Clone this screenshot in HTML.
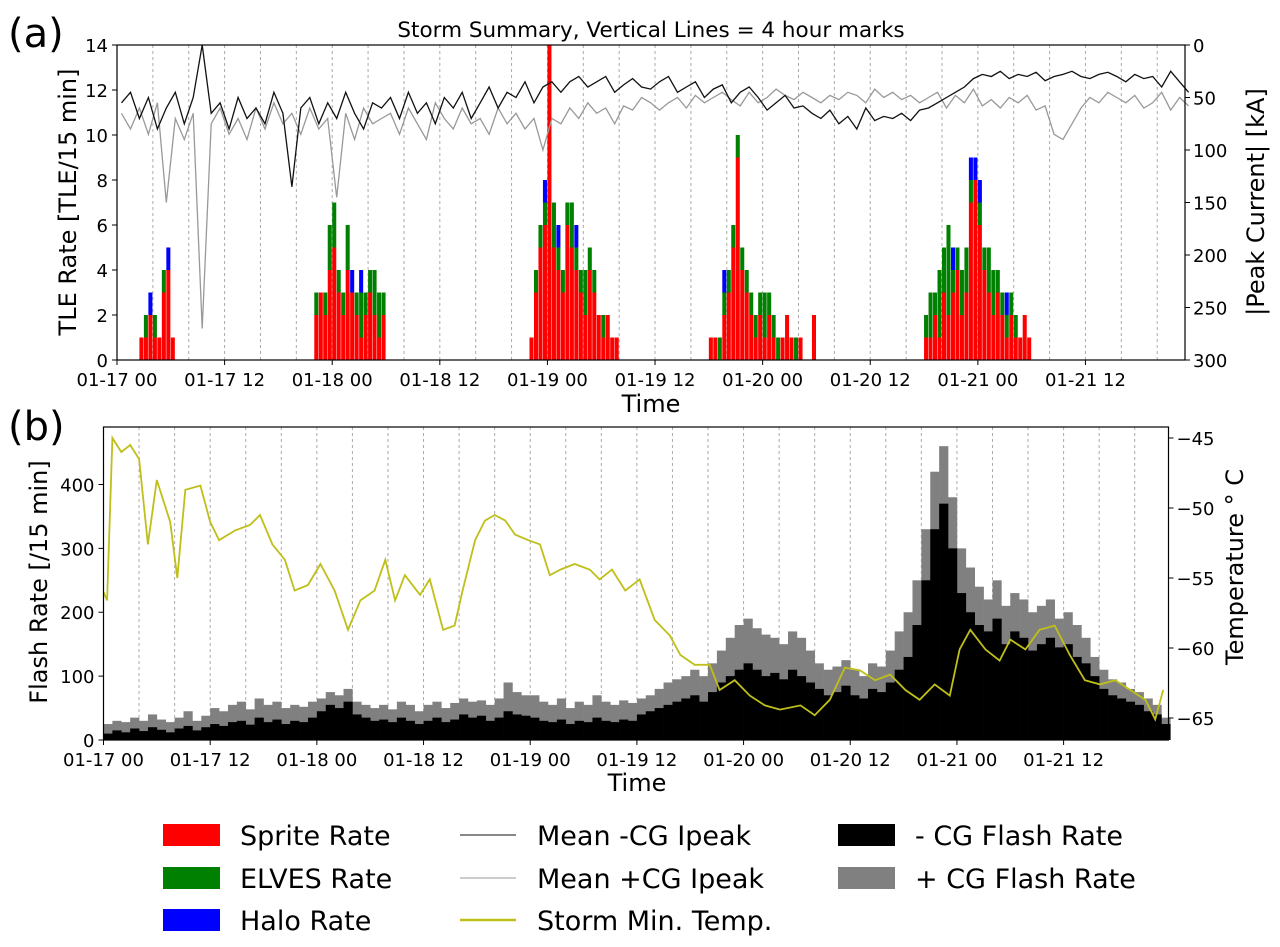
<!DOCTYPE html>
<html><head><meta charset="utf-8"><style>
body{margin:0;background:#fff;}
svg{display:block;font-family:"DejaVu Sans","Liberation Sans",sans-serif;}
</style></head><body>
<svg id="fig" width="1280" height="947" viewBox="0 0 1280 947">
<g id="pa"></g>
<g id="pb"></g>
<g id="legend"></g>
</svg>
<script>
// ---------- Panel (a) data ----------
const tleHours = [2.5,3,3.5,4,4.5,5,5.5,6,
 22,22.5,23,23.5,24,24.5,25,25.5,26,26.5,27,27.5,28,28.5,29,29.5,
 46,46.5,47,47.5,48,48.5,49,49.5,50,50.5,51,51.5,52,52.5,53,53.5,54,54.5,55,55.5,
 66,66.5,67,67.5,68,68.5,69,69.5,70,70.5,71,71.5,72,72.5,73,73.5,74,74.5,75,75.5,76,76.5,77,77.5,
 90,90.5,91,91.5,92,92.5,93,93.5,94,94.5,95,95.5,96,96.5,97,97.5,98,98.5,99,99.5,100,100.5,101,101.5];
const spriteRate = [1,1,2,1,1,3,4,1,
 2,3,2,4,5,3,2,4,3,2,1,2,3,2,1,2,
 1,3,5,6,14,5,4,3,6,5,4,3,2,4,3,2,1,2,1,1,
 1,1,0,2,3,5,9,4,3,2,1,2,1,2,1,0,1,2,1,0,1,0,0,2,
 1,1,2,1,3,2,3,4,2,3,7,8,6,4,3,2,3,2,1,2,1,1,2,1];
const elvesRate = [0,1,0,1,0,1,0,0,
 1,0,1,2,2,1,1,2,0,1,2,1,1,2,2,1,
 0,1,1,1,0,2,1,1,1,2,1,1,2,1,1,0,1,0,0,0,
 0,0,1,1,1,1,1,1,1,1,1,1,2,1,1,1,0,0,0,1,0,0,0,0,
 1,2,1,3,2,4,1,1,2,2,1,0,1,1,2,2,1,1,1,1,1,0,0,0];
const haloRate = [0,0,1,0,0,0,1,0,
 0,0,0,0,0,0,0,0,1,0,1,0,0,0,0,0,
 0,0,0,1,0,0,1,0,0,0,1,0,0,0,0,0,0,0,0,0,
 0,0,0,1,0,0,0,0,0,0,0,0,0,0,0,0,0,0,0,0,0,0,0,0,
 0,0,0,0,0,0,1,0,0,0,1,1,1,0,0,0,0,0,1,0,0,0,0,0];
const negIpeak = [55,45,70,50,80,60,45,75,50,0,
 65,55,80,50,70,60,75,45,65,135,
 60,50,75,55,70,45,65,80,55,60,
 50,70,45,65,55,75,50,60,45,70,
 55,40,60,45,50,35,55,40,35,45,
 35,30,40,35,30,45,38,32,40,42,
 35,30,45,40,35,50,42,38,55,45,
 40,50,62,55,48,60,58,65,70,62,
 75,68,80,60,72,68,70,65,72,62,
 60,55,50,45,40,32,28,30,25,32,
 28,30,26,34,30,28,25,30,32,28,
 26,30,35,28,32,30,40,25,35,45];
const posIpeak = [65,80,60,85,55,150,70,90,65,270,
 75,60,85,70,90,60,80,55,75,65,
 85,60,80,70,145,65,90,60,75,70,
 65,85,60,75,90,55,70,80,60,75,
 70,85,60,75,65,80,70,100,70,75,
 60,70,55,65,60,75,58,62,50,55,
 62,55,50,60,48,55,50,45,52,58,
 45,55,50,42,48,52,45,50,55,48,
 52,45,48,55,42,50,45,52,48,55,
 50,45,60,48,55,42,58,52,60,50,
 55,48,62,58,85,90,75,60,50,55,
 45,50,55,48,60,55,45,62,50,58];
const tleTicks = [0,2,4,6,8,10,12,14];
const ipeakTicks = [0,50,100,150,200,250,300];
const timeTickLabels = ["01-17 00","01-17 12","01-18 00","01-18 12","01-19 00","01-19 12","01-20 00","01-20 12","01-21 00","01-21 12"];

// ---------- Panel (b) data ----------
const negFlash = [10,15,12,18,14,20,16,12,18,22,15,20,
 25,22,28,30,24,35,28,32,25,30,28,35,
 45,55,50,60,40,35,30,32,28,35,30,25,
 30,35,28,32,40,35,38,30,35,45,40,38,
 35,30,28,32,25,30,28,35,30,28,32,30,
 40,45,50,55,60,65,70,60,75,90,100,110,
 120,110,100,105,95,110,100,90,80,70,75,85,
 70,65,80,75,90,110,130,180,250,330,370,300,
 230,200,180,170,190,150,170,160,140,150,160,145,
 150,130,120,100,80,70,65,60,55,45,40,25];
const totalFlash = [25,30,28,35,30,40,32,28,35,45,30,38,
 50,45,55,60,48,65,55,60,50,55,52,60,
 65,75,70,80,60,55,50,55,48,60,55,45,
 55,60,50,58,65,60,62,55,65,90,75,70,
 70,60,55,65,50,60,55,70,60,55,62,58,
 65,70,80,90,95,100,110,100,120,140,160,180,
 190,175,165,160,150,170,160,140,120,110,115,125,
 110,100,120,115,140,170,200,250,330,420,460,380,
 300,270,240,220,250,210,230,220,200,210,220,190,
 200,180,160,130,110,95,90,80,75,65,55,35];
const tempHours = [0,0.4,1,2,3,4,5,6,7.5,8.3,9.2,10.9,12,13,14.8,16.5,17.6,19,20.4,21.5,23,24.4,26,27.5,28.9,30.5,31.7,32.8,33.9,35.6,36.7,38.2,39.5,40.4,41.8,42.9,44,45.2,46.3,47.8,49.1,50.2,51.4,53,54.7,55.8,57.2,58.7,60.3,62,63.7,64.9,66.5,68.2,69.3,71,72.7,74.4,76.1,78.4,80,81.7,83.4,85.1,86.8,88.5,90.2,91.8,93.5,95.2,96.3,97.5,99.2,100.8,102,103.7,105.3,107,108.7,110.4,112.1,113.8,115.5,117.2,118.3,119.2];
const tempVals = [-56,-56.6,-45,-46,-45.5,-46.5,-52.6,-48,-51,-55,-48.7,-48.4,-51,-52.3,-51.6,-51.2,-50.5,-52.6,-53.7,-55.9,-55.5,-54,-55.9,-58.7,-56.6,-55.9,-53.7,-56.6,-54.8,-56.2,-55.1,-58.7,-58.4,-55.9,-52.3,-50.9,-50.5,-50.9,-51.9,-52.3,-52.6,-54.8,-54.4,-54,-54.4,-55.1,-54.4,-55.9,-55.1,-58,-59.1,-60.5,-61.2,-61.2,-63,-62.3,-63.4,-64.1,-64.4,-64.1,-64.8,-63.7,-61.4,-61.6,-62.3,-61.9,-63,-63.7,-62.6,-63.4,-60.1,-58.7,-60.1,-60.9,-59.4,-60.1,-58.7,-58.4,-60.5,-62.3,-62.6,-62.3,-63,-63.7,-65.1,-63];
const flashTicks = [0,100,200,300,400];
const tempTicks = [-45,-50,-55,-60,-65];

const NS="http://www.w3.org/2000/svg";
function mk(parent,tag,attrs,text){const e=document.createElementNS(NS,tag);for(const k in attrs)e.setAttribute(k,attrs[k]);if(text!==undefined)e.textContent=text;parent.appendChild(e);return e;}
const TF=18, AF=24;

// ---------- Panel (a) ----------
(function(){
const g=document.getElementById('pa');
const L=117,R=1185,T=45,B=360,HMAX=119.1;
const X=h=>L+h*(R-L)/HMAX;
const Y=v=>B-v*(B-T)/14;
const Yr=v=>T+v*(B-T)/300;
for(let h=4;h<HMAX;h+=4){const l=mk(g,'line',{x1:X(h),x2:X(h),y1:T,y2:B,stroke:'#aaa','stroke-width':1,'stroke-dasharray':'3,3'});

}
const bw=(X(0.5)-X(0))*0.9;
tleHours.forEach((h,i)=>{
 let base=0;
 [[spriteRate[i],'#ff0000','sprite-bar'],[elvesRate[i],'#008000','elves-bar'],[haloRate[i],'#0000ff','halo-bar']].forEach(([v,c,n])=>{
  if(v>0){const r=mk(g,'rect',{x:X(h),y:Y(base+v),width:bw,height:Y(base)-Y(base+v),fill:c});
  
  
  base+=v;}
 });
});
function line(arr,col,w,name){let d='';arr.forEach((v,i)=>{d+=(i?'L':'M')+X(i+0.5).toFixed(1)+','+Yr(v).toFixed(1);});
 const p=mk(g,'path',{d:d,fill:'none',stroke:col,'stroke-width':w});
 
 }
line(posIpeak,'#999',1.3,'mean-pos-cg-ipeak-line');
line(negIpeak,'#111',1.3,'mean-neg-cg-ipeak-line');
mk(g,'rect',{x:L,y:T,width:R-L,height:B-T,fill:'none',stroke:'#000','stroke-width':1.2});
tleTicks.forEach(v=>{mk(g,'line',{x1:L-5,x2:L,y1:Y(v),y2:Y(v),stroke:'#000'});
 const t=mk(g,'text',{x:L-9,y:Y(v)+7,'font-size':TF,'text-anchor':'end'},v);
 
 });
ipeakTicks.forEach(v=>{mk(g,'line',{x1:R,x2:R+5,y1:Yr(v),y2:Yr(v),stroke:'#000'});
 const t=mk(g,'text',{x:R+8,y:Yr(v)+7,'font-size':TF},v);
 
 });
timeTickLabels.forEach((s,i)=>{const h=i*12;mk(g,'line',{x1:X(h),x2:X(h),y1:B,y2:B+5,stroke:'#000'});
 const t=mk(g,'text',{x:X(h),y:B+26,'font-size':TF,'text-anchor':'middle'},s);
 
 });
let t;
t=mk(g,'text',{x:651,y:412,'font-size':AF,'text-anchor':'middle'},'Time');


t=mk(g,'text',{x:0,y:0,'font-size':AF,'text-anchor':'middle',transform:'translate(76,202) rotate(-90)'},'TLE Rate [TLE/15 min]');


t=mk(g,'text',{x:0,y:0,'font-size':AF,'text-anchor':'middle',transform:'translate(1264,202) rotate(-90)'},'|Peak Current| [kA]');


t=mk(g,'text',{x:651,y:37,'font-size':21.5,'text-anchor':'middle'},'Storm Summary, Vertical Lines = 4 hour marks');


t=mk(g,'text',{x:8,y:47,'font-size':40},'(a)');


})();

// ---------- Panel (b) ----------
(function(){
const g=document.getElementById('pb');
const L=103.5,R=1168.5,T=427,B=740,HMAX=119.8;
const X=h=>L+h*(R-L)/HMAX;
const Y=v=>B-v*(B-T)/490;
const Yt=v=>438+(-45-v)*14;
for(let h=4;h<HMAX;h+=4){const l=mk(g,'line',{x1:X(h),x2:X(h),y1:T,y2:B,stroke:'#aaa','stroke-width':1,'stroke-dasharray':'3,3'});

}
const bw=X(1)-X(0)+0.3;
totalFlash.forEach((v,i)=>{const r=mk(g,'rect',{x:X(i),y:Y(v),width:bw,height:B-Y(v),fill:'#808080'});
 
 });
negFlash.forEach((v,i)=>{const r=mk(g,'rect',{x:X(i),y:Y(v),width:bw,height:B-Y(v),fill:'#000'});
 
 });
let d='';tempHours.forEach((h,i)=>{d+=(i?'L':'M')+X(h).toFixed(1)+','+Yt(tempVals[i]).toFixed(1);});
const p=mk(g,'path',{d:d,fill:'none',stroke:'#bfbf1a','stroke-width':1.8});


mk(g,'rect',{x:L,y:T,width:R-L,height:B-T,fill:'none',stroke:'#000','stroke-width':1.2});
flashTicks.forEach(v=>{mk(g,'line',{x1:L-5,x2:L,y1:Y(v),y2:Y(v),stroke:'#000'});
 const t=mk(g,'text',{x:L-9,y:Y(v)+7,'font-size':TF,'text-anchor':'end'},v);
 
 });
tempTicks.forEach(v=>{mk(g,'line',{x1:R,x2:R+5,y1:Yt(v),y2:Yt(v),stroke:'#000'});
 const t=mk(g,'text',{x:R+8,y:Yt(v)+7,'font-size':TF},'\u2212'+Math.abs(v));
 
 });
timeTickLabels.forEach((s,i)=>{const h=i*12;mk(g,'line',{x1:X(h),x2:X(h),y1:B,y2:B+5,stroke:'#000'});
 const t=mk(g,'text',{x:X(h),y:B+26,'font-size':TF,'text-anchor':'middle'},s);
 
 });
let t;
t=mk(g,'text',{x:637,y:791,'font-size':AF,'text-anchor':'middle'},'Time');


t=mk(g,'text',{x:0,y:0,'font-size':AF,'text-anchor':'middle',transform:'translate(47,582) rotate(-90)'},'Flash Rate [/15 min]');


t=mk(g,'text',{x:0,y:0,'font-size':AF,'text-anchor':'middle',transform:'translate(1243,567) rotate(-90)'},'Temperature \u00b0 C');


t=mk(g,'text',{x:8,y:440,'font-size':40},'(b)');


})();

// ---------- Legend ----------
(function(){
const g=document.getElementById('legend');
const rows=[835,878,920];
const LF=27;
const c1=[['Sprite Rate','#ff0000'],['ELVES Rate','#008000'],['Halo Rate','#0000ff']];
const c2=[['Mean -CG Ipeak','#111',1],['Mean +CG Ipeak','#999',1],['Storm Min. Temp.','#bfbf1a',2.5]];
const c3=[['- CG Flash Rate','#000'],['+ CG Flash Rate','#808080']];
c1.forEach((e,i)=>{const r=mk(g,'rect',{x:163,y:rows[i]-11,width:57,height:22,fill:e[1]});
 
 
 const t=mk(g,'text',{x:240,y:rows[i]+10,'font-size':LF},e[0]);
 
 });
c2.forEach((e,i)=>{const l=mk(g,'line',{x1:460,x2:516,y1:rows[i],y2:rows[i],stroke:e[1],'stroke-width':e[2]});
 
 
 const t=mk(g,'text',{x:537,y:rows[i]+10,'font-size':LF},e[0]);
 
 });
c3.forEach((e,i)=>{const r=mk(g,'rect',{x:838,y:rows[i]-11,width:57,height:22,fill:e[1]});
 
 
 const t=mk(g,'text',{x:915,y:rows[i]+10,'font-size':LF},e[0]);
 
 });
})();
</script>
</body></html>
